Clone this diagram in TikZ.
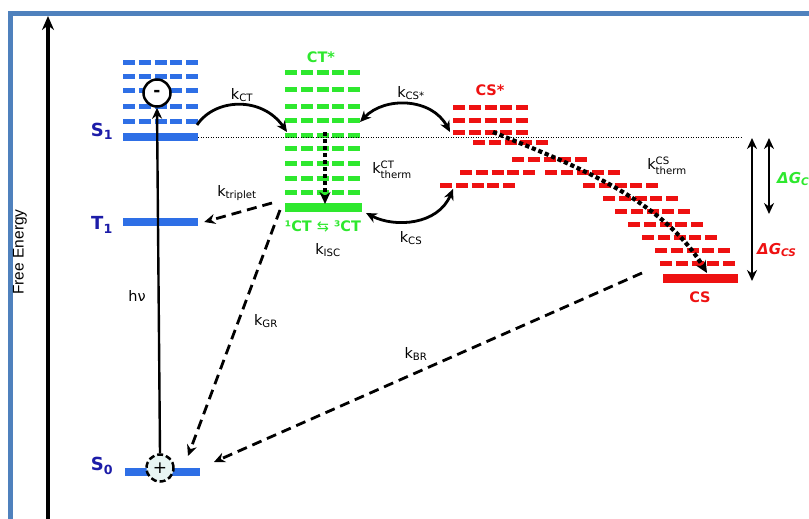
\documentclass[tikz,border=0pt]{standalone}
\usepackage{amsmath}
\usepackage{fontspec}
\setmainfont{DejaVu Sans}
\newfontfamily\arialf{Liberation Sans}
\usetikzlibrary{arrows.meta}
\definecolor{lvblue}{HTML}{2E6FE6}
\definecolor{lvgreen}{HTML}{2EE82E}
\definecolor{lvred}{HTML}{EE1111}
\definecolor{lblnavy}{HTML}{1C1CA8}
\definecolor{frameblue}{HTML}{4F81BD}
\definecolor{pluspale}{HTML}{E8F5F3}
\begin{document}
\begin{tikzpicture}[x=1pt,y=-1pt,
  bar/.style={draw=none, fill=#1, minimum width=75pt, minimum height=8pt, inner sep=0pt},
  drow/.style={draw=#1, line width=5pt, dash pattern=on 12pt off 3.75pt},
  arr/.style={-{Stealth[length=11pt,width=10pt]}, line width=2.8pt},
  darr/.style={{Stealth[length=11pt,width=10pt]}-{Stealth[length=11pt,width=10pt]}, line width=2.8pt},
  dasharr/.style={arr, dash pattern=on 10pt off 6pt},
  dotarr/.style={-{Stealth[length=12pt,width=11pt]}, line width=4.2pt, dash pattern=on 4.2pt off 2.8pt},
  lvl/.style={font=\bfseries\fontsize{18}{18}\selectfont, text=lblnavy, inner sep=0pt},
  klab/.style={font=\fontsize{14.5}{14.5}\selectfont, inner sep=0pt},
  glab/.style={font=\bfseries\fontsize{14.5}{14.5}\selectfont, inner sep=0pt},
]
\useasboundingbox (0,0) rectangle (809,519);
% frame
\draw[frameblue, line width=4.5pt] (10.5,13.5) rectangle (840,560);

% free energy axis
\coordinate (axb) at (48,525);
\coordinate (axt) at (48,16);
\draw[-{Stealth[length=14pt,width=12pt]}, line width=3.4pt] (axb) -- (axt);
\node[rotate=90, font=\arialf\fontsize{15.5}{15.5}\selectfont, inner sep=0pt] (fe) at (20,252) {Free Energy};

% blue S1 manifold
\foreach \yy in {63,77,91,106,121} \draw[drow=lvblue] (123,\yy) -- ++(75,0);
\node[bar=lvblue] (S1) at (160.5,136.5) {};
\node[bar=lvblue] (T1) at (160.5,222) {};
\node[bar=lvblue] (S0) at (162,472) {};
\node[lvl] (S1l) at (102,131) {S\textsubscript{1}};
\node[lvl] (T1l) at (102,225) {T\textsubscript{1}};
\node[lvl] (S0l) at (102,466) {S\textsubscript{0}};

% green CT manifold
\foreach \yy in {73,90,106,120,135,148,163,178,192} \draw[drow=lvgreen] (285,\yy) -- ++(75,0);
\node[bar=lvgreen, minimum width=77pt, minimum height=9pt] (CT) at (323.5,207.5) {};
\node[glab, text=lvgreen] (CTs) at (321,57) {CT*};
\node[glab, text=lvgreen] (CTl) at (323,226) {¹CT {\mdseries⇆} ³CT};

% red CS manifold
\foreach \xx/\yy in {453/107,453/120,453/132,473/142,512/159,460/172,545/172,440/185,583/185,603/198,615/211,628/224,642/237,655/250,660/263}
  \draw[drow=lvred] (\xx,\yy) -- ++(75,0);
\node[bar=lvred, minimum width=75pt, minimum height=9pt] (CS) at (700.5,278) {};
\node[glab, text=lvred] (CSs) at (490,90) {CS*};
\node[glab, text=lvred] (CSl) at (700,297) {CS};

% dotted reference line
\coordinate (dl) at (198,137.5);
\coordinate (dr) at (742,137.5);
\draw[line width=1.3pt, dash pattern=on 1.3pt off 1.2pt] (dl) -- (dr);

% Delta G arrows
\coordinate (g1t) at (752,138);
\coordinate (g1b) at (752,281);
\coordinate (g2t) at (769,138);
\coordinate (g2b) at (769,214);
\draw[darr] (g1t) -- (g1b);
\draw[darr] (g2t) -- (g2b);
\node[anchor=west, inner sep=0pt, text=lvgreen, font=\bfseries\itshape\fontsize{15}{15}\selectfont] (dgct) at (777,179) {ΔG\textsubscript{CT}};
\node[anchor=west, inner sep=0pt, text=lvred, font=\bfseries\itshape\fontsize{15}{15}\selectfont] (dgcs) at (757,250) {ΔG\textsubscript{CS}};

% hv excitation
\node[circle, draw, line width=2.5pt, dash pattern=on 6pt off 3pt, fill=pluspale, minimum size=27pt, inner sep=0pt, font=\fontsize{17}{17}\selectfont] (plus) at (160,468) {+};
\node[circle, draw, line width=2.5pt, fill=white, minimum size=27pt, inner sep=0pt, font=\bfseries\fontsize{17}{17}\selectfont] (minus) at (157,93) {-};
\draw[arr, line width=2.4pt] (plus.north) -- (minus.south);
\node[klab] (hv) at (137,296) {hν};

% k_CT
\coordinate (kct1) at (197,125);
\coordinate (kct2) at (287,132);
\draw[arr] (kct1) .. controls (215,98) and (262,96) .. (kct2);
\node[klab] (kctl) at (242,95) {k\textsubscript{CT}};

% k_CS*
\coordinate (kcss1) at (360,122);
\coordinate (kcss2) at (450,132);
\draw[darr] (kcss1) .. controls (385,96) and (432,98) .. (kcss2);
\node[klab] (kcssl) at (411,93) {k\textsubscript{CS*}};

% k_CS
\coordinate (kcs1) at (366,213);
\coordinate (kcs2) at (453,189);
\draw[darr] (kcs1) .. controls (395,228) and (438,225) .. (kcs2);
\node[klab] (kcsl) at (411,238) {k\textsubscript{CS}};
\node[klab] (kisc) at (328,250) {k\textsubscript{ISC}};

% k_therm CT
\coordinate (kth1) at (325,132);
\coordinate (kth2) at (325,204);
\draw[dotarr] (kth1) -- (kth2);
\node[klab] (kthl) at (392,170) {k$^{\text{CT}}_{\text{therm}}$};

% k_therm CS
\coordinate (ktc1) at (493,132);
\coordinate (ktc2) at (707,273);
\draw[dotarr] (ktc1) .. controls (560,160) and (660,195) .. (ktc2);
\node[klab] (ktcl) at (667,166) {k$^{\text{CS}}_{\text{therm}}$};

% k_triplet
\coordinate (ktr1) at (272,203);
\draw[dasharr] (ktr1) -- ([xshift=6pt]T1.east);
\node[klab] (ktrl) at (237,193) {k\textsubscript{triplet}};

% k_GR
\coordinate (kgr1) at (280,210);
\coordinate (kgr2) at (188,456);
\draw[dasharr] (kgr1) -- (kgr2);
\node[klab] (kgrl) at (266,321) {k\textsubscript{GR}};

% k_BR
\coordinate (kbr1) at (642,273);
\coordinate (kbr2) at (214,462);
\draw[dasharr] (kbr1) -- (kbr2);
\node[klab] (kbrl) at (416,354) {k\textsubscript{BR}};
\end{tikzpicture}
\end{document}
